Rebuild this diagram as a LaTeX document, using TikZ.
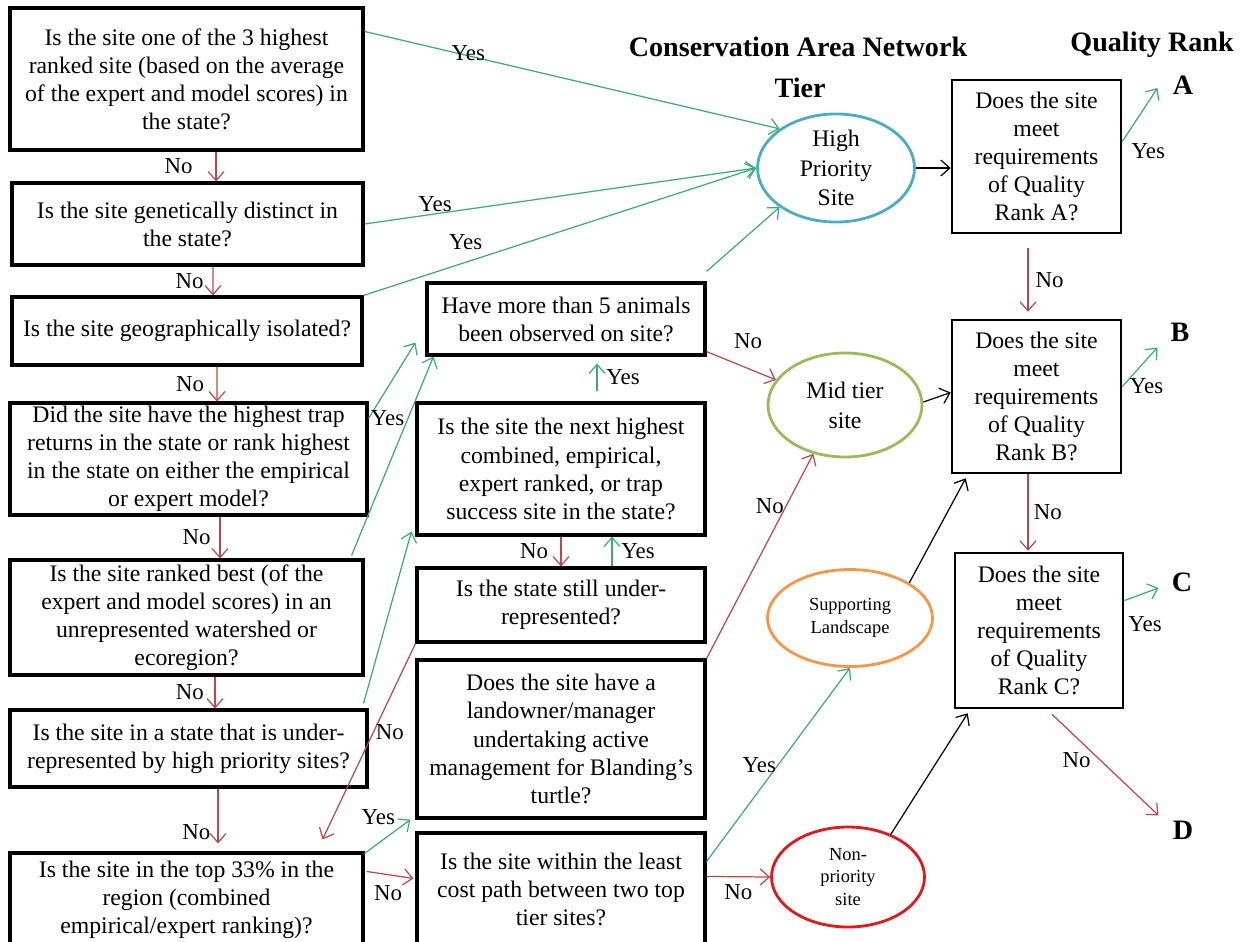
\documentclass[tikz,border=0pt]{standalone}
\usepackage{fontspec}
\setmainfont{Liberation Serif}
\usetikzlibrary{arrows.meta,shapes.geometric}
\definecolor{yesgreen}{RGB}{60,170,120}
\definecolor{nored}{RGB}{190,70,75}
\definecolor{tierblue}{RGB}{75,172,198}
\definecolor{tiergreen}{RGB}{155,187,89}
\definecolor{tierorange}{RGB}{247,150,70}
\definecolor{tierred}{RGB}{225,25,25}

\begin{document}
\begin{tikzpicture}[x=0.02cm,y=-0.02cm,>={Straight Barb[length=1.8mm,width=3.2mm]},
    box/.style={draw,line width=1.8pt,align=center,inner xsep=2pt,inner ysep=0pt,font=\fontsize{13.5}{16}\selectfont},
    tier/.style={ellipse,draw,line width=1.6pt,align=center,inner sep=0pt,font=\fontsize{13.5}{17}\selectfont},
    head/.style={font=\fontsize{16}{19}\selectfont\bfseries,inner sep=0pt},
    lbl/.style={text=black,font=\fontsize{13}{14}\selectfont,inner sep=1pt},
    yes/.style={->,yesgreen,line width=0.7pt},
    no/.style={->,nored,line width=0.7pt},
    link/.style={->,black,line width=0.7pt}]
            \useasboundingbox (0,0) rectangle (1250,941);
            \node[head] (cantitle) at (798,47) {Conservation Area Network};
            \node[head] (tiertitle) at (800,88) {Tier};
            \node[head] (qtitle) at (1152,45) {Quality Rank};
            \node[head] (A) at (1183,85) {A};
            \node[head] (B) at (1180,332) {B};
            \node[head] (C) at (1182,582) {C};
            \node[head] (D) at (1183,830) {D};

            \node[box,minimum width=7.06cm,minimum height=2.84cm] (top3) at (186.5,79) {Is the site one of the 3 highest\\ranked site (based on the average\\of the expert and model scores) in\\the state?};
            \node[box,minimum width=7.02cm,minimum height=1.64cm] (genetic) at (187.5,224) {Is the site genetically distinct in\\the state?};
            \node[box,minimum width=7cm,minimum height=1.36cm] (isolated) at (187,331) {Is the site geographically isolated?};
            \node[box,minimum width=7.14cm,minimum height=2.24cm] (trap) at (188.5,459) {Did the site have the highest trap\\returns in the state or rank highest\\in the state on either the empirical\\or expert model?};
            \node[box,minimum width=7.06cm,minimum height=2.3cm] (watershed) at (186.5,617.5) {Is the site ranked best (of the\\expert and model scores) in an\\unrepresented watershed or\\ecoregion?};
            \node[box,minimum width=7.14cm,minimum height=1.54cm] (understate) at (188.5,748.5) {Is the site in a state that is under-\\represented by high priority sites?};
            \node[box,minimum width=7.06cm,minimum height=1.86cm] (top33) at (186.5,899.5) {Is the site in the top 33\% in the\\region (combined\\empirical/expert ranking)?};

            \node[box,minimum width=5.56cm,minimum height=1.44cm] (animals) at (566,319) {Have more than 5 animals\\been observed on site?};
            \node[box,minimum width=5.76cm,minimum height=2.64cm] (nexthigh) at (561,469) {Is the site the next highest\\combined, empirical,\\expert ranked, or trap\\success site in the state?};
            \node[box,minimum width=5.76cm,minimum height=1.48cm] (stillunder) at (561,605) {Is the state still under-\\represented?};
            \node[box,minimum width=5.76cm,minimum height=3.16cm] (landowner) at (561,739) {Does the site have a\\landowner/manager\\undertaking active\\management for Blanding's\\turtle?};
            \node[box,minimum width=5.76cm,minimum height=2.26cm] (leastcost) at (561,889.5) {Is the site within the least\\cost path between two top\\tier sites?};

            \node[tier,draw=tierblue,minimum width=3.14cm,minimum height=2.02cm] (high) at (836,168) {High\\Priority\\Site};
            \node[tier,draw=tiergreen,minimum width=3.08cm,minimum height=2.08cm] (mid) at (845,405) {Mid tier\\site};
            \node[tier,draw=tierorange,minimum width=3.3cm,minimum height=1.94cm,font=\fontsize{10.5}{13}\selectfont] (support) at (850,618) {Supporting\\Landscape};
            \node[tier,draw=tierred,minimum width=3.06cm,minimum height=2cm,font=\fontsize{10.5}{13}\selectfont] (nonprio) at (848,877) {Non-\\priority\\site};

            \node[box,line width=1.5pt,minimum width=3.38cm,minimum height=3.06cm] (rankA) at (1036.5,156.5) {Does the site\\meet\\requirements\\of Quality\\Rank A?};
            \node[box,line width=1.5pt,minimum width=3.38cm,minimum height=3.06cm] (rankB) at (1036.5,396.5) {Does the site\\meet\\requirements\\of Quality\\Rank B?};
            \node[box,line width=1.5pt,minimum width=3.36cm,minimum height=3.1cm] (rankC) at (1039,630.5) {Does the site\\meet\\requirements\\of Quality\\Rank C?};

            \draw[yes] ([shift={(0,25)}]top3.north east) -- node[lbl,pos=.25,yshift=1.5pt] {Yes} (high.north west);
            \draw[yes] (genetic.east) -- node[lbl,pos=.18,above] {Yes} (high.west);
            \draw[yes] (isolated.north east) -- node[lbl,pos=.26,above=6pt] {Yes} (high.west);
            \draw[yes] ([shift={(0,-10)}]animals.north east) -- (high.south west);
            \draw[yes] ([shift={(0,17)}]trap.north east) -- node[lbl,pos=0,right] {Yes} ([shift={(-10,-14)}]animals.south west);
            \draw[yes] ([shift={(-13,-3)}]watershed.north east) -- ([shift={(8,0)}]animals.south west);
            \draw[yes] ([shift={(-5,-5)}]understate.north east) -- ([shift={(-4,-5)}]nexthigh.south west);

            \draw[no] ([shift={(29.5,0)}]top3.south) -- node[lbl,left=12pt] {No} ([shift={(28.5,0)}]genetic.north);
            \draw[no] ([shift={(25.5,0)}]genetic.south) -- node[lbl,left=4pt] {No} ([shift={(26,0)}]isolated.north);
            \draw[no] ([shift={(30,0)}]isolated.south) -- node[lbl,left=6pt] {No} ([shift={(28.5,0)}]trap.north);
            \draw[no] ([shift={(31.5,0)}]trap.south) -- node[lbl,left=4pt] {No} ([shift={(33.5,0)}]watershed.north);
            \draw[no] ([shift={(28.5,0)}]watershed.south) -- node[lbl,left=5pt] {No} ([shift={(26.5,0)}]understate.north);
            \draw[no] ([shift={(29.5,0)}]understate.south) -- node[lbl,pos=.79,left=3pt] {No} ([shift={(31.5,-8)}]top33.north);

            \draw[yes] ([shift={(36,-10)}]nexthigh.north) -- node[lbl,right=4pt] {Yes} ([shift={(31,7)}]animals.south);
            \draw[no] (nexthigh.south) -- node[lbl,left=6pt] {No} (stillunder.north);
            \draw[yes] ([shift={(51,0)}]stillunder.north) -- node[lbl,right=4pt] {Yes} ([shift={(51,0)}]nexthigh.south);
            \draw[no] (stillunder.south west) -- node[lbl,pos=.45,right] {No} ([shift={(136,-12)}]top33.north);
            \draw[no] ([shift={(0,-5)}]animals.south east) -- node[lbl,pos=.6,above=10pt] {No} (mid.160);
            \draw[no] (landowner.north east) -- node[lbl,pos=.745,left] {No} (mid.237);

            \draw[yes] ([shift={(0,2)}]top33.north east) -- node[lbl,pos=.3,above=9pt] {Yes} ([shift={(-5,0)}]landowner.south west);
            \draw[no] ([shift={(2,20)}]top33.north east) -- node[lbl,pos=.46,below=5pt] {No} ([shift={(-2,47)}]leastcost.north west);
            \draw[yes] ([shift={(0,30)}]leastcost.north east) -- node[lbl,left] {Yes} (support.south);
            \draw[no] ([shift={(0,45)}]leastcost.north east) -- node[lbl,below=3pt] {No} (nonprio.west);

            \draw[link] (high.east) -- (high.east -| rankA.west);
            \draw[link] ([shift={(0,-3)}]mid.east) -- ([shift={(0,-4)}]rankB.west);
            \draw[link] (support.north east) -- ([shift={(15,4)}]rankB.south west);
            \draw[link] (nonprio.45) -- ([shift={(14,4)}]rankC.south west);

            \draw[yes] ([shift={(0,-15)}]rankA.east) -- node[lbl,pos=0,below right,xshift=4pt] {Yes} ([shift={(-15,3)}]A.west);
            \draw[no] ([shift={(-8.5,14)}]rankA.south) -- node[lbl,right=3pt] {No} ([shift={(-8.5,-7)}]rankB.north);
            \draw[yes] ([shift={(0,-10)}]rankB.east) -- node[lbl,pos=0,right=3pt] {Yes} ([shift={(-13,6)}]B.south west);
            \draw[no] ([shift={(-8.5,0)}]rankB.south) -- node[lbl,right=2pt] {No} ([shift={(-11,-1)}]rankC.north);
            \draw[yes] ([shift={(0,-30)}]rankC.east) -- node[lbl,pos=0,below right,xshift=1pt,yshift=-8pt] {Yes} ([shift={(-13,6)}]C.west);
            \draw[no] ([shift={(13,5)}]rankC.south) -- node[lbl,pos=.23,below=7pt] {No} ([shift={(-14,-5)}]D.north west);
        \end{tikzpicture}
\end{document}
